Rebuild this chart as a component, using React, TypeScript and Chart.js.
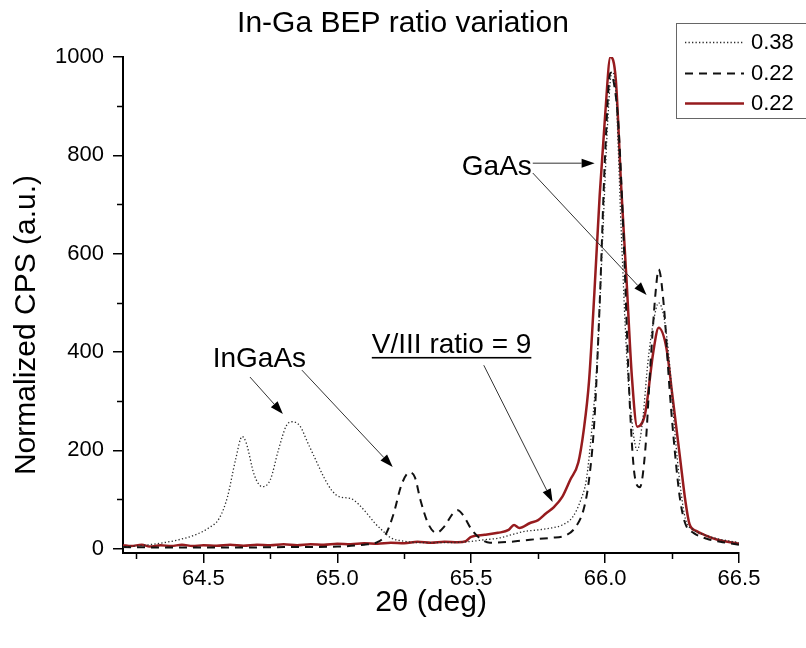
import React, { useEffect, useRef } from 'react';
import { Chart, registerables } from 'chart.js';

Chart.register(...registerables);

// ---------- data ----------
const dottedX = [64.2, 64.3, 64.4, 64.47, 64.52, 64.56, 64.59, 64.62, 64.645, 64.66, 64.69, 64.72, 64.75, 64.78, 64.81, 64.83, 64.86, 64.89, 64.92, 64.95, 64.98, 65.01, 65.05, 65.08, 65.11, 65.14, 65.17, 65.2, 65.25, 65.3, 65.4, 65.49, 65.55, 65.6, 65.65, 65.7, 65.75, 65.8, 65.84, 65.88, 65.91, 65.93, 65.95, 65.97, 65.99, 66.01, 66.025, 66.04, 66.06, 66.08, 66.1, 66.12, 66.14, 66.16, 66.18, 66.2, 66.22, 66.24, 66.26, 66.28, 66.3, 66.33, 66.36, 66.42, 66.48, 66.5];
const dottedY = [3, 8, 17, 28, 42, 62, 105, 180, 228, 215, 150, 126, 140, 200, 250, 258, 250, 215, 180, 145, 118, 105, 102, 90, 72, 52, 36, 22, 15, 12, 12, 14, 18, 21, 28, 35, 38, 42, 48, 65, 100, 140, 240, 380, 620, 870, 970, 930, 650, 400, 260, 200, 260, 380, 460, 500, 470, 380, 240, 130, 60, 38, 30, 20, 14, 12];

const dashedX = [64.2, 64.4, 64.6, 64.8, 65.0, 65.1, 65.15, 65.18, 65.21, 65.24, 65.27, 65.29, 65.31, 65.34, 65.37, 65.4, 65.43, 65.45, 65.47, 65.5, 65.53, 65.57, 65.65, 65.72, 65.8, 65.85, 65.89, 65.92, 65.94, 65.96, 65.98, 66.0, 66.02, 66.035, 66.05, 66.07, 66.09, 66.11, 66.13, 66.15, 66.17, 66.19, 66.2, 66.22, 66.24, 66.26, 66.28, 66.3, 66.33, 66.38, 66.43, 66.5];
const dashedY = [3, 2, 2, 3, 4, 8, 13, 28, 70, 130, 155, 145, 100, 50, 32, 45, 70, 78, 68, 40, 22, 12, 14, 18, 22, 26, 44, 80, 140, 260, 500, 800, 968, 940, 860, 620, 320, 150, 125, 200, 380, 530, 568, 490, 330, 200, 100, 50, 32, 20, 14, 8];

const solidX = [64.2, 64.23, 64.27, 64.3, 64.34, 64.38, 64.42, 64.46, 64.5, 64.55, 64.6, 64.65, 64.7, 64.75, 64.8, 64.85, 64.9, 64.95, 65.0, 65.05, 65.1, 65.15, 65.2, 65.25, 65.3, 65.35, 65.4, 65.45, 65.48, 65.5, 65.55, 65.6, 65.64, 65.66, 65.68, 65.72, 65.75, 65.78, 65.81, 65.84, 65.87, 65.9, 65.92, 65.94, 65.96, 65.98, 66.0, 66.02, 66.04, 66.06, 66.08, 66.1, 66.12, 66.15, 66.18, 66.2, 66.23, 66.25, 66.28, 66.3, 66.315, 66.34, 66.37, 66.42, 66.49, 66.5];
const solidY = [7, 5, 8, 4, 7, 5, 8, 5, 7, 6, 8, 6, 8, 7, 9, 7, 9, 8, 10, 9, 11, 10, 12, 11, 14, 12, 14, 13, 15, 24, 28, 32, 38, 48, 42, 52, 58, 72, 85, 105, 140, 175, 240, 340, 520, 720, 880, 1000, 954, 737, 547, 350, 248, 276, 400, 449, 405, 317, 184, 96, 50, 36, 28, 18, 11, 10];

const seriesLabels = ['0.38', '0.22', '0.22'];
const xMajorTicks = [64.5, 65.0, 65.5, 66.0, 66.5];
const xMinorTicks = [64.25, 64.75, 65.25, 65.75, 66.25];
const yMajorTicks = [0, 200, 400, 600, 800, 1000];
const yMinorTicks = [100, 300, 500, 700, 900];

const annotationTexts = [
  { text: 'InGaAs', x: 64.535, y: 370, underline: false },
  { text: 'V/III ratio = 9', x: 65.129, y: 398, underline: true },
  { text: 'GaAs', x: 65.465, y: 760, underline: false },
];
const annotationArrows = [
  { x0: 64.674, y0: 349, x1: 64.797, y1: 274 },
  { x0: 64.868, y0: 363, x1: 65.207, y1: 166 },
  { x0: 65.547, y0: 373, x1: 65.804, y1: 95 },
  { x0: 65.73, y0: 784, x1: 65.961, y1: 784 },
  { x0: 65.73, y0: 764, x1: 66.155, y1: 516 },
];

// ---------- styles ----------
const FONT = "'Liberation Sans', Arial, Helvetica, sans-serif";
const RED = '#961b1e';
const seriesStyles = [
  { color: '#2a2a2a', width: 1.3, dash: [1.3, 2.2] },
  { color: '#111111', width: 2, dash: [8, 6] },
  { color: RED, width: 2.5, dash: [] as number[] },
];

function toPoints(xs: number[], ys: number[]) {
  return xs.map((x, i) => ({ x, y: ys[i] }));
}

const overlayPlugin = {
  id: 'overlay',
  afterDraw(chart: any) {
    const ctx: CanvasRenderingContext2D = chart.ctx;
    const xs = chart.scales.x;
    const ys = chart.scales.y;
    const area = chart.chartArea;
    ctx.save();

    // minor ticks
    ctx.strokeStyle = '#000';
    ctx.lineWidth = 1.5;
    ctx.beginPath();
    xMinorTicks.forEach((v) => {
      const px = Math.round(xs.getPixelForValue(v)) + 0.5;
      ctx.moveTo(px, area.bottom);
      ctx.lineTo(px, area.bottom + 6);
    });
    yMinorTicks.forEach((v) => {
      const py = Math.round(ys.getPixelForValue(v)) + 0.5;
      ctx.moveTo(area.left, py);
      ctx.lineTo(area.left - 6, py);
    });
    ctx.stroke();

    // title
    ctx.fillStyle = '#000';
    ctx.font = `30px ${FONT}`;
    ctx.textAlign = 'center';
    ctx.textBaseline = 'alphabetic';
    ctx.fillText('In-Ga BEP ratio variation', 403, 32);

    // x axis title
    ctx.fillText('2\u03b8 (deg)', (area.left + area.right) / 2, 611);

    // y axis title
    ctx.save();
    ctx.translate(35, 325);
    ctx.rotate(-Math.PI / 2);
    ctx.fillText('Normalized CPS (a.u.)', 0, 0);
    ctx.restore();

    // annotations text
    ctx.font = `28px ${FONT}`;
    ctx.textAlign = 'left';
    annotationTexts.forEach((a) => {
      const px = xs.getPixelForValue(a.x);
      const py = ys.getPixelForValue(a.y);
      ctx.fillStyle = '#000';
      ctx.fillText(a.text, px, py);
      if (a.underline) {
        const w = ctx.measureText(a.text).width;
        ctx.fillRect(px, py + 4, w, 1.6);
      }
    });

    // arrows
    annotationArrows.forEach((a) => {
      const x0 = xs.getPixelForValue(a.x0);
      const y0 = ys.getPixelForValue(a.y0);
      const x1 = xs.getPixelForValue(a.x1);
      const y1 = ys.getPixelForValue(a.y1);
      const ang = Math.atan2(y1 - y0, x1 - x0);
      const L = 13;
      const H = 4.5;
      const bx = x1 - L * Math.cos(ang);
      const by = y1 - L * Math.sin(ang);
      ctx.strokeStyle = '#333';
      ctx.lineWidth = 1;
      ctx.beginPath();
      ctx.moveTo(x0, y0);
      ctx.lineTo(bx, by);
      ctx.stroke();
      ctx.fillStyle = '#000';
      ctx.beginPath();
      ctx.moveTo(x1, y1);
      ctx.lineTo(bx + H * Math.sin(ang), by - H * Math.cos(ang));
      ctx.lineTo(bx - H * Math.sin(ang), by + H * Math.cos(ang));
      ctx.closePath();
      ctx.fill();
    });

    // legend
    ctx.strokeStyle = '#666';
    ctx.lineWidth = 1;
    ctx.strokeRect(676.5, 23.5, 150, 95);
    const rowY = [42, 73, 103];
    ctx.font = `22px ${FONT}`;
    ctx.textBaseline = 'middle';
    seriesLabels.forEach((lab, i) => {
      const st = seriesStyles[i];
      ctx.strokeStyle = st.color;
      ctx.lineWidth = st.width;
      ctx.setLineDash(st.dash);
      ctx.beginPath();
      ctx.moveTo(685, rowY[i] + 0.5);
      ctx.lineTo(744, rowY[i] + 0.5);
      ctx.stroke();
      ctx.setLineDash([]);
      ctx.fillStyle = '#000';
      ctx.fillText(lab, 751, rowY[i] + 1);
    });

    ctx.restore();
  },
};

export default function App() {
  const ref = useRef<HTMLCanvasElement>(null);
  useEffect(() => {
    const canvas = ref.current;
    if (!canvas) return;
    const xsArr = [dottedX, dashedX, solidX];
    const ysArr = [dottedY, dashedY, solidY];
    const chart = new Chart(canvas, {
      type: 'line',
      data: {
        datasets: seriesLabels.map((lab, i) => ({
          label: lab,
          data: toPoints(xsArr[i], ysArr[i]),
          borderColor: seriesStyles[i].color,
          borderWidth: seriesStyles[i].width,
          borderDash: seriesStyles[i].dash,
          pointRadius: 0,
          fill: false,
          cubicInterpolationMode: 'monotone' as const,
        })),
      },
      options: {
        animation: false,
        responsive: false,
        parsing: true,
        layout: { padding: { left: 0, right: 67, top: 57, bottom: 0 } },
        plugins: {
          legend: { display: false },
          title: { display: false },
          tooltip: { enabled: false },
        },
        scales: {
          x: {
            type: 'linear',
            min: 64.2,
            max: 66.5,
            afterFit: (s: any) => {
              s.height = 95;
            },
            afterBuildTicks: (s: any) => {
              s.ticks = xMajorTicks.map((v) => ({ value: v }));
            },
            ticks: {
              font: { family: FONT, size: 22 },
              color: '#000',
              padding: 3,
              maxRotation: 0,
              autoSkip: false,
              callback: (v: any) => Number(v).toFixed(1),
            },
            grid: { drawOnChartArea: false, drawTicks: true, tickLength: 10, color: '#000', lineWidth: 1.5 },
            border: { display: true, color: '#000', width: 2 },
          },
          y: {
            type: 'linear',
            min: -9,
            max: 1000,
            afterFit: (s: any) => {
              s.width = 123;
            },
            afterBuildTicks: (s: any) => {
              s.ticks = yMajorTicks.map((v) => ({ value: v }));
            },
            ticks: {
              font: { family: FONT, size: 22 },
              color: '#000',
              padding: 9,
              autoSkip: false,
              callback: (v: any) => String(v),
            },
            grid: { drawOnChartArea: false, drawTicks: true, tickLength: 10, color: '#000', lineWidth: 1.5 },
            border: { display: true, color: '#000', width: 2 },
          },
        },
      },
      plugins: [overlayPlugin],
    });
    return () => chart.destroy();
  }, []);
  return (
    <div style={{ position: 'fixed', left: 0, top: 0, width: 806, height: 648, background: '#fff' }}>
      <canvas ref={ref} width={806} height={648} style={{ width: 806, height: 648 }} />
    </div>
  );
}
